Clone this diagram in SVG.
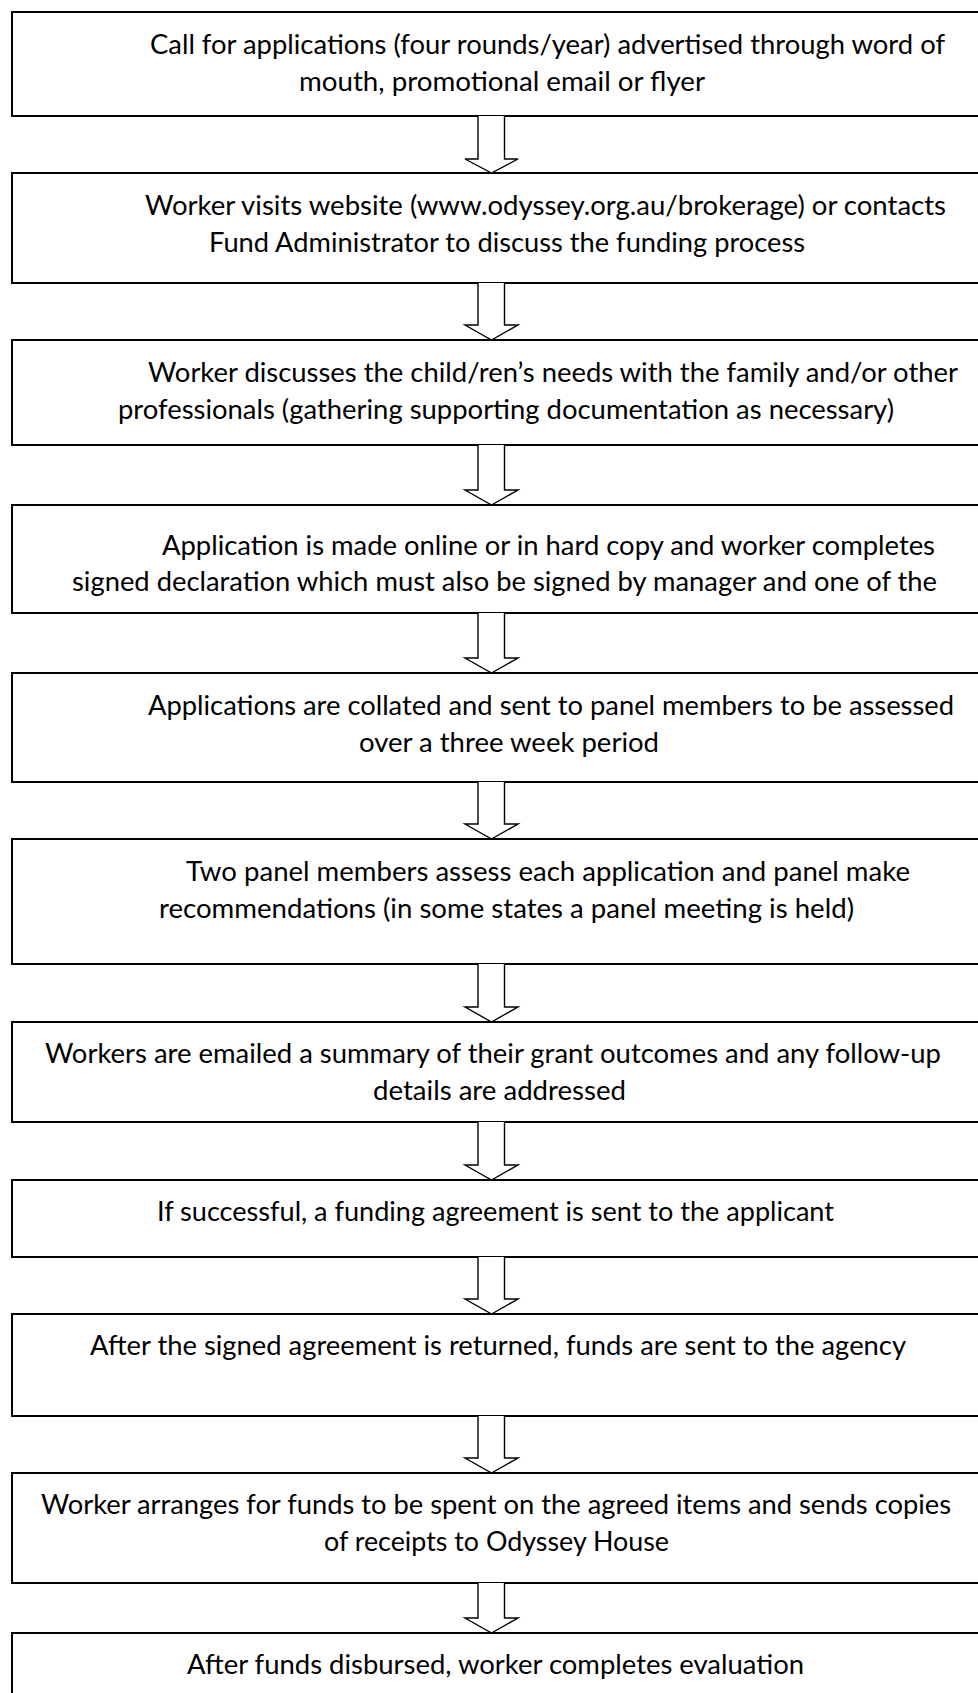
<svg xmlns="http://www.w3.org/2000/svg" width="978" height="1693" viewBox="0 0 978 1693">
  <style>
    .box { fill: #ffffff; stroke: #000000; stroke-width: 2; }
    .lbl { font-family: Lato, "Noto Sans", "Liberation Sans", sans-serif; font-size: 27px; fill: #000000; }
    .arrow { fill: #ffffff; stroke: #000000; stroke-width: 1.4; stroke-linejoin: miter; }
  </style>
  <rect x="0" y="0" width="978" height="1693" fill="#ffffff"/>

  <!-- process steps -->
  <g id="step1">
    <rect class="box" x="12" y="12" width="968" height="104"/>
    <text class="lbl" x="150" y="54" textLength="795" lengthAdjust="spacingAndGlyphs">Call for applications (four rounds/year) advertised through word of</text>
    <text class="lbl" x="299" y="91" textLength="406" lengthAdjust="spacingAndGlyphs">mouth, promotional email or flyer</text>
  </g>
  <g id="step2">
    <rect class="box" x="12" y="173" width="968" height="110"/>
    <text class="lbl" x="145" y="215" textLength="801" lengthAdjust="spacingAndGlyphs">Worker visits website (www.odyssey.org.au/brokerage) or contacts</text>
    <text class="lbl" x="209" y="252" textLength="596" lengthAdjust="spacingAndGlyphs">Fund Administrator to discuss the funding process</text>
  </g>
  <g id="step3">
    <rect class="box" x="12" y="340" width="968" height="105"/>
    <text class="lbl" x="148" y="382" textLength="810" lengthAdjust="spacingAndGlyphs">Worker discusses the child/ren’s needs with the family and/or other</text>
    <text class="lbl" x="118" y="419" textLength="776" lengthAdjust="spacingAndGlyphs">professionals (gathering supporting documentation as necessary)</text>
  </g>
  <g id="step4">
    <rect class="box" x="12" y="505" width="968" height="108"/>
    <text class="lbl" x="162" y="555" textLength="773" lengthAdjust="spacingAndGlyphs">Application is made online or in hard copy and worker completes</text>
    <text class="lbl" x="72" y="591" textLength="865" lengthAdjust="spacingAndGlyphs">signed declaration which must also be signed by manager and one of the</text>
  </g>
  <g id="step5">
    <rect class="box" x="12" y="673" width="968" height="109"/>
    <text class="lbl" x="148" y="715" textLength="806" lengthAdjust="spacingAndGlyphs">Applications are collated and sent to panel members to be assessed</text>
    <text class="lbl" x="359" y="752" textLength="300" lengthAdjust="spacingAndGlyphs">over a three week period</text>
  </g>
  <g id="step6">
    <rect class="box" x="12" y="839" width="968" height="125"/>
    <text class="lbl" x="186" y="881" textLength="724" lengthAdjust="spacingAndGlyphs">Two panel members assess each application and panel make</text>
    <text class="lbl" x="159" y="918" textLength="695" lengthAdjust="spacingAndGlyphs">recommendations (in some states a panel meeting is held)</text>
  </g>
  <g id="step7">
    <rect class="box" x="12" y="1022" width="968" height="100"/>
    <text class="lbl" x="45" y="1063" textLength="896" lengthAdjust="spacingAndGlyphs">Workers are emailed a summary of their grant outcomes and any follow-up</text>
    <text class="lbl" x="373" y="1100" textLength="253" lengthAdjust="spacingAndGlyphs">details are addressed</text>
  </g>
  <g id="step8">
    <rect class="box" x="12" y="1180" width="968" height="77"/>
    <text class="lbl" x="157" y="1221" textLength="677" lengthAdjust="spacingAndGlyphs">If successful, a funding agreement is sent to the applicant</text>
  </g>
  <g id="step9">
    <rect class="box" x="12" y="1314" width="968" height="102"/>
    <text class="lbl" x="90" y="1355" textLength="816" lengthAdjust="spacingAndGlyphs">After the signed agreement is returned, funds are sent to the agency</text>
  </g>
  <g id="step10">
    <rect class="box" x="12" y="1473" width="968" height="110"/>
    <text class="lbl" x="41" y="1514" textLength="910" lengthAdjust="spacingAndGlyphs">Worker arranges for funds to be spent on the agreed items and sends copies</text>
    <text class="lbl" x="324" y="1551" textLength="345" lengthAdjust="spacingAndGlyphs">of receipts to Odyssey House</text>
  </g>
  <g id="step11">
    <rect class="box" x="12" y="1633" width="968" height="80"/>
    <text class="lbl" x="187" y="1674" textLength="617" lengthAdjust="spacingAndGlyphs">After funds disbursed, worker completes evaluation</text>
  </g>

  <!-- block arrows between steps -->
  <g id="connectors">
    <path class="arrow" d="M478 116 V159 H465 L491.5 173 L518 159 H504.5 V116"/>
    <path class="arrow" d="M478 283 V325 H465 L491.5 340 L518 325 H504.5 V283"/>
    <path class="arrow" d="M478 445 V490 H465 L491.5 505 L518 490 H504.5 V445"/>
    <path class="arrow" d="M478 613 V658 H465 L491.5 673 L518 658 H504.5 V613"/>
    <path class="arrow" d="M478 782 V824 H465 L491.5 839 L518 824 H504.5 V782"/>
    <path class="arrow" d="M478 964 V1007 H465 L491.5 1022 L518 1007 H504.5 V964"/>
    <path class="arrow" d="M478 1122 V1165 H465 L491.5 1180 L518 1165 H504.5 V1122"/>
    <path class="arrow" d="M478 1257 V1299 H465 L491.5 1314 L518 1299 H504.5 V1257"/>
    <path class="arrow" d="M478 1416 V1458 H465 L491.5 1473 L518 1458 H504.5 V1416"/>
    <path class="arrow" d="M478 1583 V1618 H465 L491.5 1633 L518 1618 H504.5 V1583"/>
  </g>
</svg>
